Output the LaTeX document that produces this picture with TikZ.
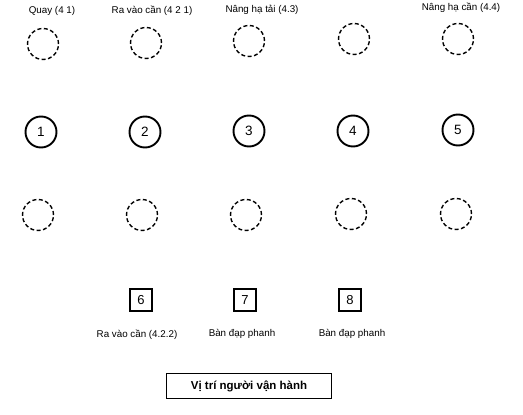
\documentclass[tikz,border=0pt]{standalone}
\usepackage{fontspec}
\setmainfont{Liberation Sans}
\begin{document}
\begin{tikzpicture}[x=1pt,y=-1pt,
  dcirc/.style={circle,draw,line width=1.4pt,dash pattern=on 4pt off 2.5pt,minimum size=31pt,inner sep=0pt},
  ncirc/.style={circle,draw,line width=1.9pt,minimum size=31pt,inner sep=0pt,font=\fontsize{13.5}{15}\selectfont},
  nsq/.style={rectangle,draw,line width=1.9pt,minimum size=22pt,inner sep=0pt,font=\fontsize{13}{15}\selectfont},
  lbl/.style={font=\fontsize{9.8}{11}\selectfont,inner sep=0pt},
  mainbox/.style={rectangle,draw,line width=1.6pt,minimum width=165pt,minimum height=25pt,font=\bfseries\fontsize{11.5}{13}\selectfont}]
\useasboundingbox (0,0) rectangle (523,415);
% top labels
\node[lbl] (t1) at (52,11) {Quay (4 1)};
\node[lbl] (t2) at (152,11) {Ra vào cần (4 2 1)};
\node[lbl] (t3) at (262,10) {Nâng hạ tải (4.3)};
\node[lbl] (t4) at (461,8) {Nâng hạ cần (4.4)};
% top dashed circles
\node[dcirc] (a1) at (43,44) {};
\node[dcirc] (a2) at (146,43) {};
\node[dcirc] (a3) at (249,41) {};
\node[dcirc] (a4) at (354,39) {};
\node[dcirc] (a5) at (458,39) {};
% numbered circles
\node[ncirc] (n1) at (41,132) {1};
\node[ncirc] (n2) at (145,132) {2};
\node[ncirc] (n3) at (249,131) {3};
\node[ncirc] (n4) at (353,131) {4};
\node[ncirc] (n5) at (458,130) {5};
% bottom dashed circles
\node[dcirc] (b1) at (38,215) {};
\node[dcirc] (b2) at (142,215) {};
\node[dcirc] (b3) at (246,215) {};
\node[dcirc] (b4) at (351,214) {};
\node[dcirc] (b5) at (456,214) {};
% squares
\node[nsq] (s6) at (141,300) {6};
\node[nsq] (s7) at (245,300) {7};
\node[nsq] (s8) at (350,300) {8};
\node[lbl] (l6) at (137,335) {Ra vào cần (4.2.2)};
\node[lbl] (l7) at (242,334) {Bàn đạp phanh};
\node[lbl] (l8) at (352,334) {Bàn đạp phanh};
% bottom box
\node[mainbox] (op) at (249,386) {Vị trí người vận hành};
\end{tikzpicture}
\end{document}
